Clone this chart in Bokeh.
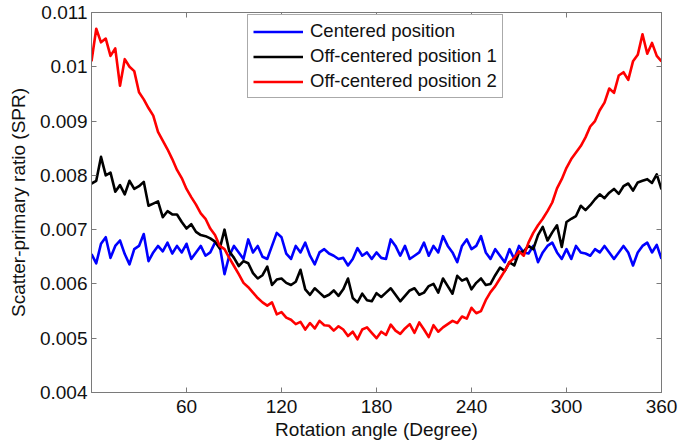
from bokeh.plotting import figure
from bokeh.models import (Range1d, FixedTicker, LinearAxis, Legend, LegendItem,
                          CustomJSTickFormatter, ColumnDataSource)
from bokeh.embed import file_html
from bokeh.resources import INLINE

# Rotation angle samples (degrees)
angles = list(range(0, 361, 3))

# Scatter-primary ratio values, in units of 1e-4
centered_e4 = [
    65.5, 63.8, 67.4, 68.6, 64.8, 67.0, 68.0, 65.5, 63.6, 66.4, 67.0, 69.2, 64.2, 65.8, 67.0, 66.0,
    67.6, 65.6, 67.0, 65.8, 67.4, 64.6, 65.8, 67.0, 65.2, 65.8, 67.6, 67.0, 61.8, 65.2, 67.0, 65.8,
    64.6, 68.2, 65.8, 67.0, 65.0, 64.6, 67.0, 69.4, 68.6, 65.6, 64.6, 67.0, 65.8, 67.6, 65.2, 63.6,
    65.8, 66.4, 65.6, 65.2, 64.6, 64.8, 63.4, 64.6, 66.6, 65.2, 65.8, 64.6, 65.8, 64.8, 64.6, 68.2,
    67.0, 65.2, 67.0, 64.6, 65.2, 65.8, 67.6, 65.2, 67.0, 65.8, 68.8, 67.0, 65.8, 64.0, 67.0, 68.2,
    66.4, 67.0, 68.8, 65.8, 64.6, 66.4, 65.2, 64.0, 66.4, 64.6, 67.0, 65.8, 65.6, 67.0, 64.0, 65.8,
    67.0, 67.6, 65.8, 64.6, 66.4, 64.6, 67.0, 65.8, 65.6, 65.2, 66.4, 65.8, 67.0, 65.8, 64.6, 65.8,
    67.0, 65.8, 63.4, 65.8, 67.0, 67.6, 65.8, 67.2, 64.6,
]
offcenter1_e4 = [
    78.5, 79.0, 83.4, 80.0, 80.5, 77.0, 78.2, 76.5, 79.0, 77.5, 78.0, 78.8, 74.4, 74.8, 75.2, 72.3,
    73.4, 72.8, 72.8, 71.4, 70.2, 71.0, 69.6, 69.0, 68.8, 68.4, 67.8, 66.5, 70.0, 66.0, 64.8, 63.3,
    64.2, 63.8, 62.0, 61.0, 61.6, 63.2, 59.8, 60.8, 61.0, 60.2, 59.8, 60.4, 62.6, 59.0, 58.0, 59.2,
    58.4, 57.6, 58.0, 58.8, 57.8, 59.0, 61.0, 57.4, 56.6, 58.2, 57.0, 56.8, 58.3, 57.6, 58.4, 59.2,
    58.0, 56.8, 57.8, 58.8, 59.2, 58.0, 58.4, 59.6, 60.0, 58.4, 61.0, 59.6, 58.2, 61.5, 60.6, 61.0,
    59.0, 60.2, 61.0, 59.8, 60.0, 61.6, 63.0, 62.4, 64.0, 63.4, 65.8, 66.0, 67.0, 66.4, 69.0, 70.5,
    68.0, 69.5, 70.8, 66.8, 71.4, 72.0, 72.5, 74.4, 73.6, 74.5, 75.6, 76.5, 75.8, 76.8, 77.5, 76.6,
    78.0, 78.5, 77.2, 78.7, 79.0, 79.3, 78.6, 80.2, 77.4,
]
offcenter2_e4 = [
    101.0, 107.0, 104.5, 105.2, 102.0, 103.4, 96.5, 101.4, 100.0, 99.2, 95.3, 94.0, 92.4, 91.0, 88.0, 86.4,
    84.8, 83.0, 81.0, 79.5, 77.5, 76.0, 74.6, 73.0, 72.0, 70.2, 69.0, 67.0, 66.4, 64.8, 63.3, 61.8,
    60.2, 59.4, 58.4, 57.4, 56.6, 56.0, 56.6, 54.4, 54.8, 53.8, 53.4, 52.6, 53.0, 51.6, 52.8, 51.8,
    53.2, 52.4, 52.3, 51.4, 52.2, 51.6, 50.4, 51.2, 49.8, 51.6, 52.0, 51.0, 50.0, 51.2, 50.6, 52.5,
    51.4, 50.8, 51.8, 52.6, 51.0, 52.9, 51.6, 50.2, 52.4, 51.2, 52.0, 52.6, 53.2, 52.8, 54.0, 53.6,
    55.6, 54.6, 55.0, 57.0, 58.5, 59.6, 61.0, 62.4, 64.0, 64.8, 66.0, 65.2, 67.6, 69.4, 70.8, 72.0,
    73.4, 75.0, 77.6, 79.3, 81.4, 83.0, 84.2, 85.4, 87.0, 89.0, 90.0, 92.0, 93.4, 96.0, 95.2, 98.4,
    99.0, 97.6, 101.0, 102.2, 106.0, 102.4, 104.4, 102.0, 101.0,
]

series_names = ["Centered position", "Off-centered position 1", "Off-centered position 2"]
series_colors = ["#0000ff", "#000000", "#ff0000"]

x_ticks = [60, 120, 180, 240, 300, 360]
y_ticks = [0.004, 0.005, 0.006, 0.007, 0.008, 0.009, 0.010, 0.011]

FONT = "Liberation Sans"
AXIS_COLOR = "#7a7a7a"

p = figure(width=678, height=448, output_backend="svg", toolbar_location=None,
           x_range=Range1d(0, 360), y_range=Range1d(0.004, 0.011),
           min_border_left=91, min_border_right=17, min_border_top=12, min_border_bottom=56)
p.xgrid.visible = False
p.ygrid.visible = False
p.outline_line_color = AXIS_COLOR
p.background_fill_color = "white"
p.border_fill_color = "white"

src = ColumnDataSource(dict(
    x=angles,
    c=[v * 1e-4 for v in centered_e4],
    o1=[v * 1e-4 for v in offcenter1_e4],
    o2=[v * 1e-4 for v in offcenter2_e4],
))

renderers = []
for key, color in zip(["c", "o1", "o2"], series_colors):
    r = p.line("x", key, source=src, line_color=color, line_width=2.6, line_join="round")
    renderers.append(r)

fmt = CustomJSTickFormatter(code="return String(Number(tick.toFixed(3)));")
blank = CustomJSTickFormatter(code="return '';")

def style_axis(ax):
    ax.axis_line_color = AXIS_COLOR
    ax.major_tick_line_color = AXIS_COLOR
    ax.minor_tick_line_color = None
    ax.major_tick_in = 5
    ax.major_tick_out = 0
    ax.major_label_text_font = FONT
    ax.major_label_text_font_size = "19px"
    ax.major_label_text_color = "#111111"
    ax.axis_label_text_font = FONT
    ax.axis_label_text_font_size = "19px"
    ax.axis_label_text_font_style = "normal"
    ax.axis_label_text_color = "#111111"

xa = p.xaxis[0]
xa.ticker = FixedTicker(ticks=x_ticks)
xa.axis_label = "Rotation angle (Degree)"
style_axis(xa)
xa.major_label_standoff = 7
xa.axis_label_standoff = 3

ya = p.yaxis[0]
ya.ticker = FixedTicker(ticks=y_ticks)
ya.formatter = fmt
ya.axis_label = "Scatter-primary ratio (SPR)"
style_axis(ya)
ya.major_label_standoff = 4
ya.axis_label_standoff = 8

# box ticks on the top and right edges (MATLAB style), no labels
top = LinearAxis(ticker=FixedTicker(ticks=x_ticks), formatter=blank)
style_axis(top)
top.major_label_standoff = 0
top.major_label_text_font_size = "1px"
p.add_layout(top, "above")

right = LinearAxis(ticker=FixedTicker(ticks=y_ticks), formatter=blank)
style_axis(right)
right.major_label_standoff = 0
right.major_label_text_font_size = "1px"
p.add_layout(right, "right")

legend = Legend(items=[LegendItem(label=n, renderers=[r]) for n, r in zip(series_names, renderers)],
                location=(156, 294))
legend.label_text_font = FONT
legend.label_text_font_size = "18.5px"
legend.label_text_color = "#111111"
legend.border_line_color = "#555555"
legend.border_line_width = 1
legend.background_fill_color = "white"
legend.background_fill_alpha = 1
legend.padding = 5
legend.spacing = 3
legend.label_height = 21
legend.glyph_height = 21
legend.glyph_width = 50
legend.label_standoff = 7
legend.margin = 0
p.add_layout(legend)

open("out.html", "w").write(file_html(p, INLINE))
